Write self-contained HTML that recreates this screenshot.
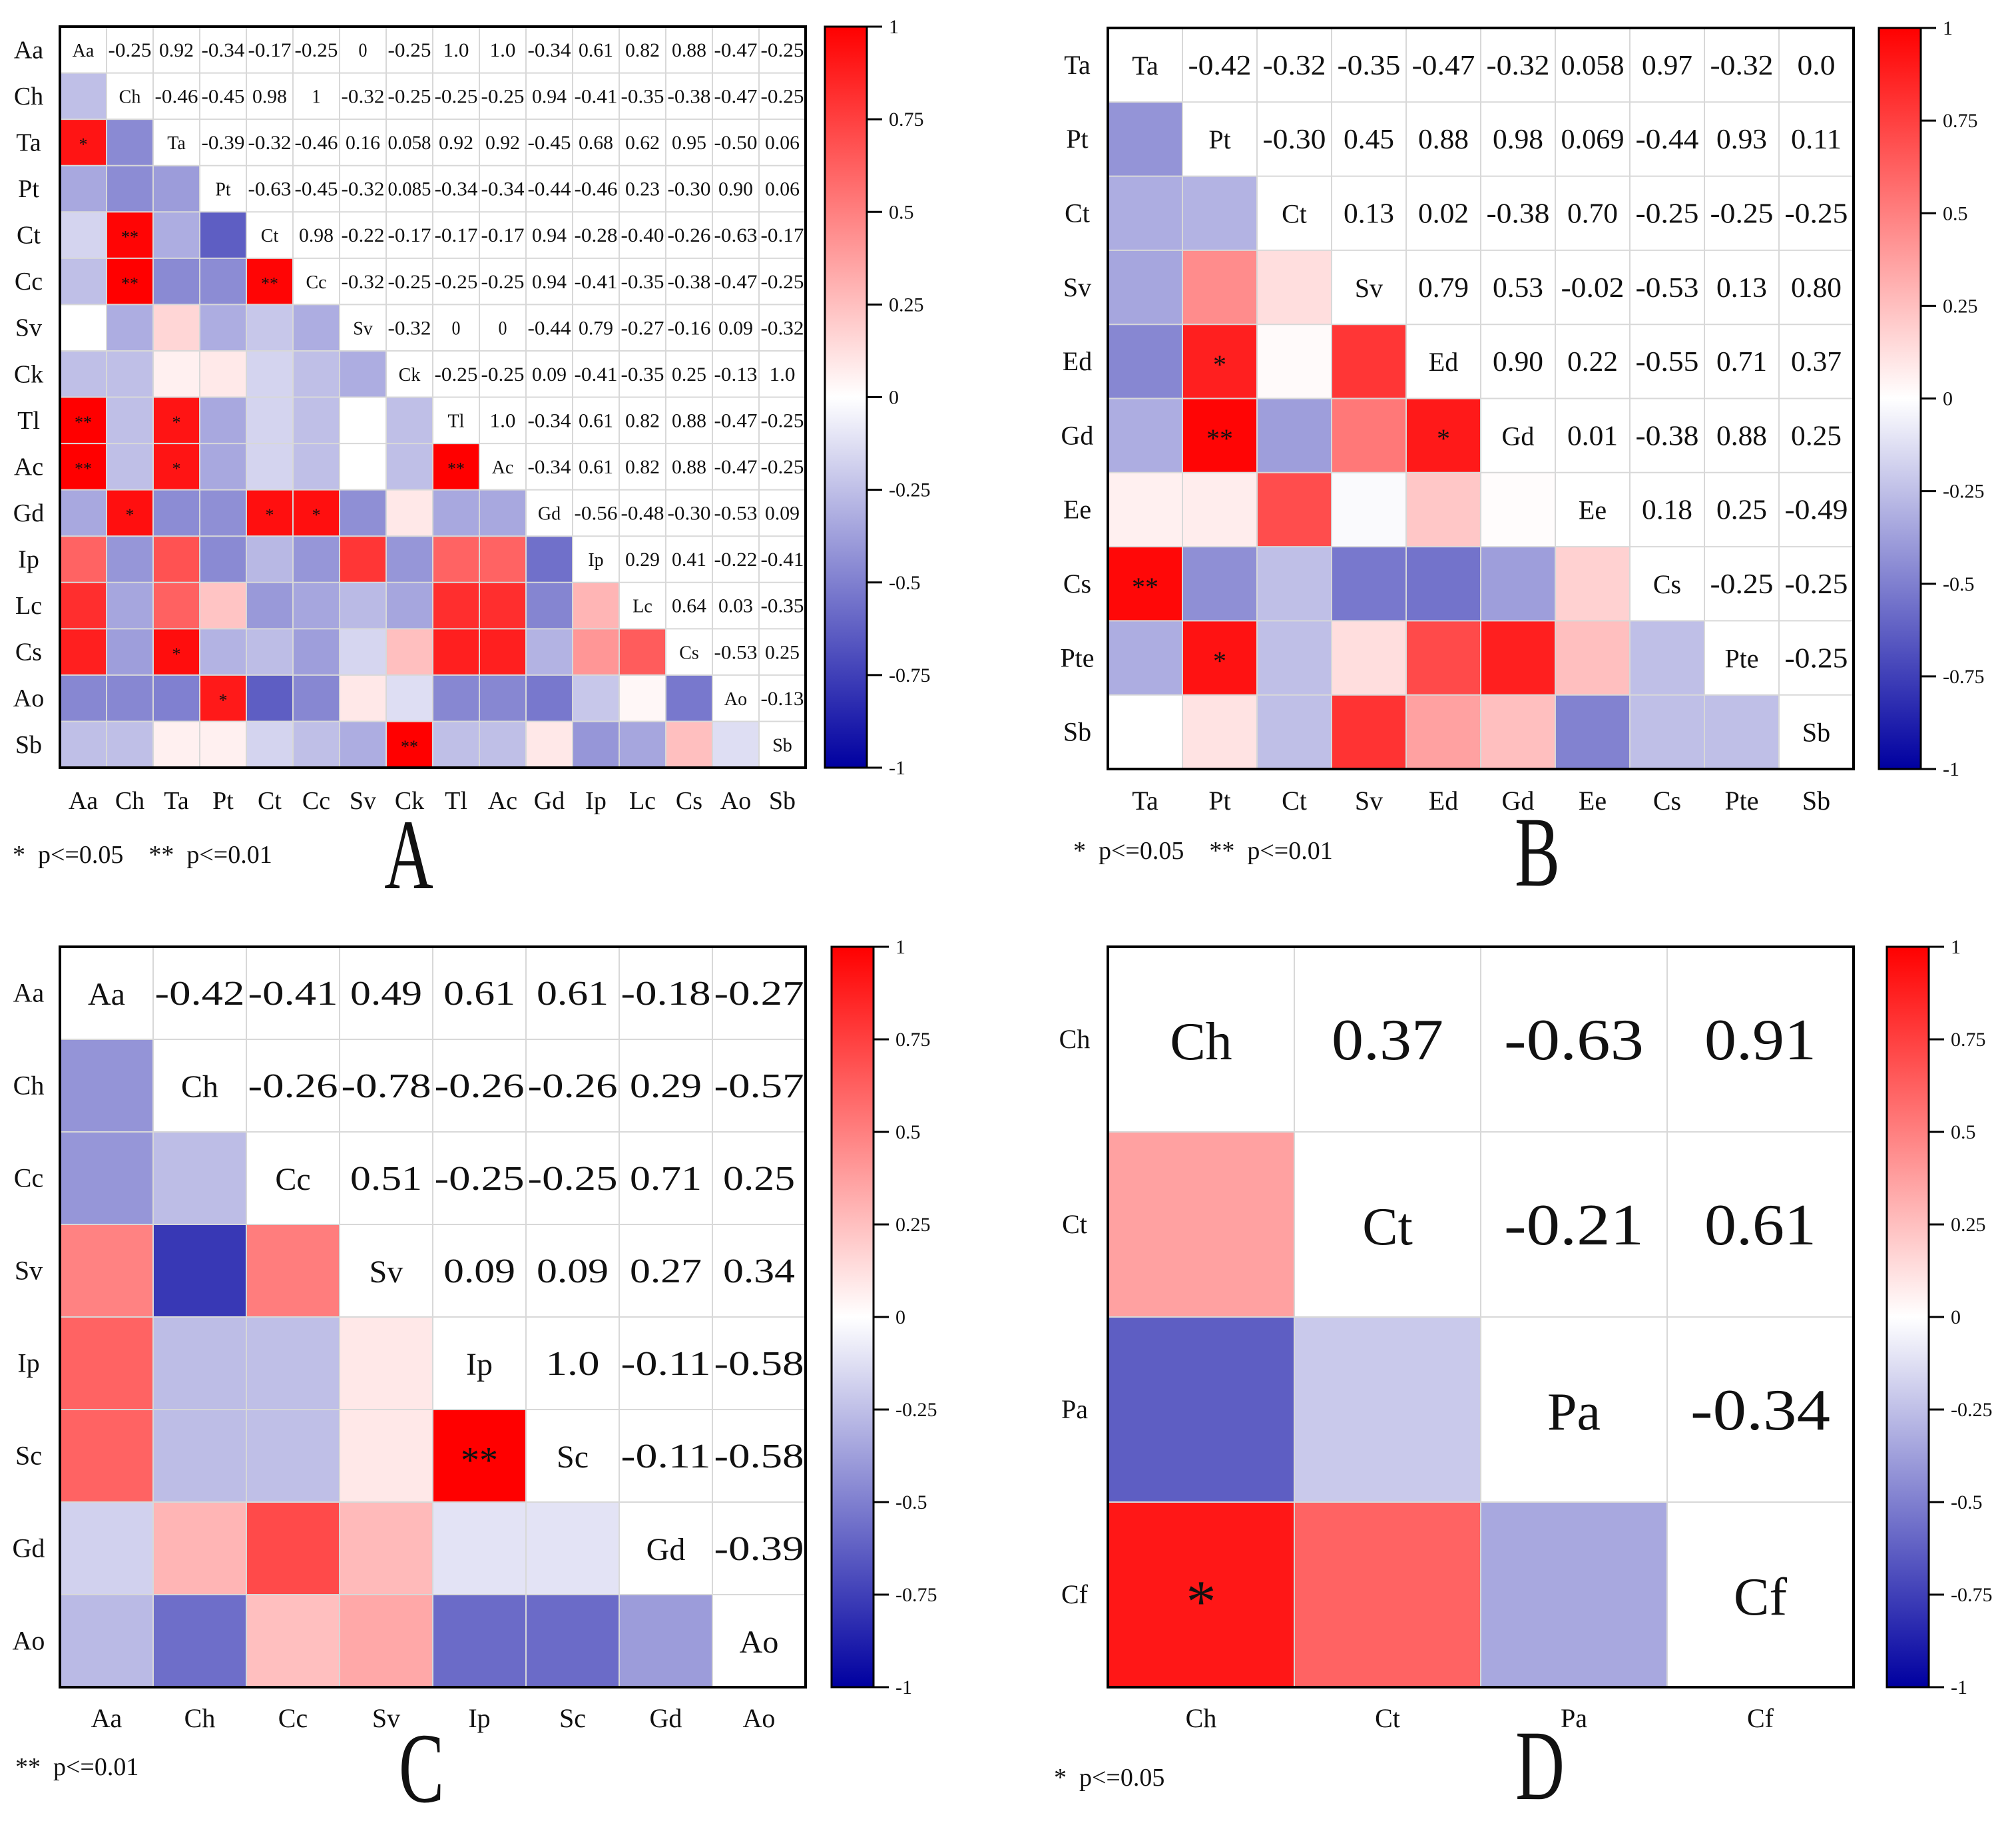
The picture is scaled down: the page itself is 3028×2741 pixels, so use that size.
<!DOCTYPE html>
<html><head><meta charset="utf-8">
<style>
html,body{margin:0;padding:0;background:#fff;}
svg{display:block;}
text{font-family:"Liberation Serif","Noto Serif CJK SC",serif;fill:#111;}
</style></head>
<body>
<svg id="fig" width="3028" height="2741" viewBox="0 0 3028 2741" xmlns="http://www.w3.org/2000/svg">
<defs>
<linearGradient id="cbgrad" x1="0" y1="0" x2="0" y2="1">
<stop offset="0" stop-color="rgb(255,0,0)"/>
<stop offset="0.5" stop-color="rgb(255,255,255)"/>
<stop offset="1" stop-color="rgb(0,0,160)"/>
</linearGradient>
</defs>
</svg>
<script>
// ---------- Panel A data ----------
const labelsA = ["Aa","Ch","Ta","Pt","Ct","Cc","Sv","Ck","Tl","Ac","Gd","Ip","Lc","Cs","Ao","Sb"];
const upperA = [
["-0.25","0.92","-0.34","-0.17","-0.25","0","-0.25","1.0","1.0","-0.34","0.61","0.82","0.88","-0.47","-0.25"],
["-0.46","-0.45","0.98","1","-0.32","-0.25","-0.25","-0.25","0.94","-0.41","-0.35","-0.38","-0.47","-0.25"],
["-0.39","-0.32","-0.46","0.16","0.058","0.92","0.92","-0.45","0.68","0.62","0.95","-0.50","0.06"],
["-0.63","-0.45","-0.32","0.085","-0.34","-0.34","-0.44","-0.46","0.23","-0.30","0.90","0.06"],
["0.98","-0.22","-0.17","-0.17","-0.17","0.94","-0.28","-0.40","-0.26","-0.63","-0.17"],
["-0.32","-0.25","-0.25","-0.25","0.94","-0.41","-0.35","-0.38","-0.47","-0.25"],
["-0.32","0","0","-0.44","0.79","-0.27","-0.16","0.09","-0.32"],
["-0.25","-0.25","0.09","-0.41","-0.35","0.25","-0.13","1.0"],
["1.0","-0.34","0.61","0.82","0.88","-0.47","-0.25"],
["-0.34","0.61","0.82","0.88","-0.47","-0.25"],
["-0.56","-0.48","-0.30","-0.53","0.09"],
["0.29","0.41","-0.22","-0.41"],
["0.64","0.03","-0.35"],
["-0.53","0.25"],
["-0.13"]
];
const sigA = [["Ta","Aa","*"],["Ct","Ch","**"],["Cc","Ch","**"],["Cc","Ct","**"],["Tl","Aa","**"],["Tl","Ta","*"],["Ac","Aa","**"],["Ac","Ta","*"],["Ac","Tl","**"],["Gd","Ch","*"],["Gd","Ct","*"],["Gd","Cc","*"],["Cs","Ta","*"],["Ao","Pt","*"],["Sb","Ck","**"]];

// ---------- Panel B data ----------
const labelsB = ["Ta","Pt","Ct","Sv","Ed","Gd","Ee","Cs","Pte","Sb"];
const upperB = [
["-0.42","-0.32","-0.35","-0.47","-0.32","0.058","0.97","-0.32","0.0"],
["-0.30","0.45","0.88","0.98","0.069","-0.44","0.93","0.11"],
["0.13","0.02","-0.38","0.70","-0.25","-0.25","-0.25"],
["0.79","0.53","-0.02","-0.53","0.13","0.80"],
["0.90","0.22","-0.55","0.71","0.37"],
["0.01","-0.38","0.88","0.25"],
["0.18","0.25","-0.49"],
["-0.25","-0.25"],
["-0.25"]
];
const sigB = [["Ed","Pt","*"],["Gd","Pt","**"],["Gd","Ed","*"],["Cs","Ta","**"],["Pte","Pt","*"]];

// ---------- Panel C data ----------
const labelsC = ["Aa","Ch","Cc","Sv","Ip","Sc","Gd","Ao"];
const upperC = [
["-0.42","-0.41","0.49","0.61","0.61","-0.18","-0.27"],
["-0.26","-0.78","-0.26","-0.26","0.29","-0.57"],
["0.51","-0.25","-0.25","0.71","0.25"],
["0.09","0.09","0.27","0.34"],
["1.0","-0.11","-0.58"],
["-0.11","-0.58"],
["-0.39"]
];
const sigC = [["Sc","Ip","**"]];

// ---------- Panel D data ----------
const labelsD = ["Ch","Ct","Pa","Cf"];
const upperD = [
["0.37","-0.63","0.91"],
["-0.21","0.61"],
["-0.34"]
];
const sigD = [["Cf","Ch","*"]];

const cbTicks = [1,0.75,0.5,0.25,0,-0.25,-0.5,-0.75,-1];
const cbTickLabels = ["1","0.75","0.5","0.25","0","-0.25","-0.5","-0.75","-1"];

const NS = "http://www.w3.org/2000/svg";
const svg = document.getElementById("fig");

function mk(tag, attrs, parent){
  const e = document.createElementNS(NS, tag);
  for (const k in attrs) e.setAttribute(k, attrs[k]);
  (parent||svg).appendChild(e);
  return e;
}
function colorOf(v){
  v = Math.max(-1, Math.min(1, v));
  if (v >= 0){ const t = 1 - v; return "rgb(255,"+Math.round(255*t)+","+Math.round(255*t)+")"; }
  const t = 1 + v; return "rgb("+Math.round(255*t)+","+Math.round(255*t)+","+Math.round(160+95*t)+")";
}

function panel(cfg){
  const g = mk("g", {});
  
  
  const n = cfg.labels.length;
  const cw = (cfg.x1 - cfg.x0) / n, ch = (cfg.y1 - cfg.y0) / n;
  const xs = i => cfg.x0 + i*cw;
  const ys = i => cfg.y0 + i*ch;
  const val = (r,c) => { const a=Math.min(r,c), b=Math.max(r,c); return cfg.upper[a][b-a-1]; };
  mk("rect",{x:cfg.x0,y:cfg.y0,width:cfg.x1-cfg.x0,height:cfg.y1-cfg.y0,fill:"#fff"},g);
  for (let r=0;r<n;r++){
    for (let c=0;c<n;c++){
      if (r>c){
        const cell = mk("rect",{x:xs(c),y:ys(r),width:cw+0.5,height:ch+0.5,fill:colorOf(parseFloat(val(r,c)))},g);
        
        
      }
    }
  }
  for (let i=1;i<n;i++){
    mk("line",{x1:xs(i),y1:cfg.y0,x2:xs(i),y2:cfg.y1,stroke:"#d8d8d8","stroke-width":2},g);
    mk("line",{x1:cfg.x0,y1:ys(i),x2:cfg.x1,y2:ys(i),stroke:"#d8d8d8","stroke-width":2},g);
  }
  for (let r=0;r<n;r++){
    for (let c=r;c<n;c++){
      const cx = xs(c)+cw/2, cy = ys(r)+ch/2 + cfg.cellFont*0.34;
      if (c===r){
        const t = mk("text",{x:cx,y:cy,"text-anchor":"middle","font-size":cfg.diagFont},g);
        t.textContent = cfg.labels[r];
        
        
      } else {
        const s = val(r,c);
        const t = mk("text",{x:cx,y:cy,"text-anchor":"middle","font-size":cfg.cellFont,textLength:Math.min(cw*0.97,s.length*cfg.charW),lengthAdjust:"spacingAndGlyphs"},g);
        t.textContent = s;
        
        
      }
    }
  }
  cfg.sig.forEach(sg => {
    const r = cfg.labels.indexOf(sg[0]), c = cfg.labels.indexOf(sg[1]);
    const t = mk("text",{x:xs(c)+cw/2,y:ys(r)+ch/2+cfg.starFont*0.45,"text-anchor":"middle","font-size":cfg.starFont,fill:"#200"},g);
    t.textContent = sg[2];
    
    
  });
  const fr = mk("rect",{x:cfg.x0,y:cfg.y0,width:cfg.x1-cfg.x0,height:cfg.y1-cfg.y0,fill:"none",stroke:"#000","stroke-width":4},g);
  
  
  for (let i=0;i<n;i++){
    const t = mk("text",{x:cfg.rowLabelX,y:ys(i)+ch/2+cfg.axisFont*0.33,"text-anchor":"middle","font-size":cfg.axisFont},g);
    t.textContent = cfg.labels[i];
    
    
    const u = mk("text",{x:xs(i)+cw/2,y:cfg.colLabelY,"text-anchor":"middle","font-size":cfg.axisFont},g);
    u.textContent = cfg.labels[i];
    
    
  }
  const cb = mk("g",{},g);
  
  
  mk("rect",{x:cfg.cbx,y:cfg.y0,width:63,height:cfg.y1-cfg.y0,fill:"url(#cbgrad)",stroke:"#000","stroke-width":3},cb);
  const cy = v => cfg.y0 + (1-v)/2*(cfg.y1-cfg.y0);
  cbTicks.forEach((v,i) => {
    mk("line",{x1:cfg.cbx+63,y1:cy(v),x2:cfg.cbx+86,y2:cy(v),stroke:"#000","stroke-width":3},cb);
    const t = mk("text",{x:cfg.cbx+96,y:cy(v)+10,"font-size":30,fill:"#222"},cb);
    t.textContent = cbTickLabels[i];
    
    
  });
  const lg = mk("text",{x:cfg.legX,y:cfg.legY,"font-size":38,style:"white-space:pre"},g);
  lg.textContent = cfg.legend;
  
  
  const pl = mk("text",{x:0,y:0,"text-anchor":"middle","font-size":150,transform:"translate("+cfg.letX+","+cfg.letY+") scale(0.68,1)"},g);
  pl.textContent = cfg.letter;
  
  
}

panel({name:"panel-a",labels:labelsA,upper:upperA,sig:sigA,x0:90,x1:1210,y0:40,y1:1153,
  cellFont:30,diagFont:28,charW:13,starFont:26,axisFont:38,rowLabelX:43,colLabelY:1215,
  cbx:1239,legX:19,legY:1296,legend:"*  p<=0.05    **  p<=0.01",letter:"A",letX:614,letY:1334});
panel({name:"panel-b",labels:labelsB,upper:upperB,sig:sigB,x0:1664,x1:2784,y0:42,y1:1155,
  cellFont:42,diagFont:40,charW:19,starFont:40,axisFont:40,rowLabelX:1618,colLabelY:1216,
  cbx:2822,legX:1612,legY:1290,legend:"*  p<=0.05    **  p<=0.01",letter:"B",letX:2309,letY:1330});
panel({name:"panel-c",labels:labelsC,upper:upperC,sig:sigC,x0:90,x1:1210,y0:1422,y1:2534,
  cellFont:52,diagFont:48,charW:27,starFont:56,axisFont:40,rowLabelX:43,colLabelY:2594,
  cbx:1249,legX:23,legY:2666,legend:"**  p<=0.01",letter:"C",letX:633,letY:2706});
panel({name:"panel-d",labels:labelsD,upper:upperD,sig:sigD,x0:1664,x1:2784,y0:1422,y1:2534,
  cellFont:88,diagFont:80,charW:42,starFont:90,axisFont:40,rowLabelX:1614,colLabelY:2594,
  cbx:2834,legX:1583,legY:2682,legend:"*  p<=0.05",letter:"D",letX:2313,letY:2702});
</script>
</body></html>
